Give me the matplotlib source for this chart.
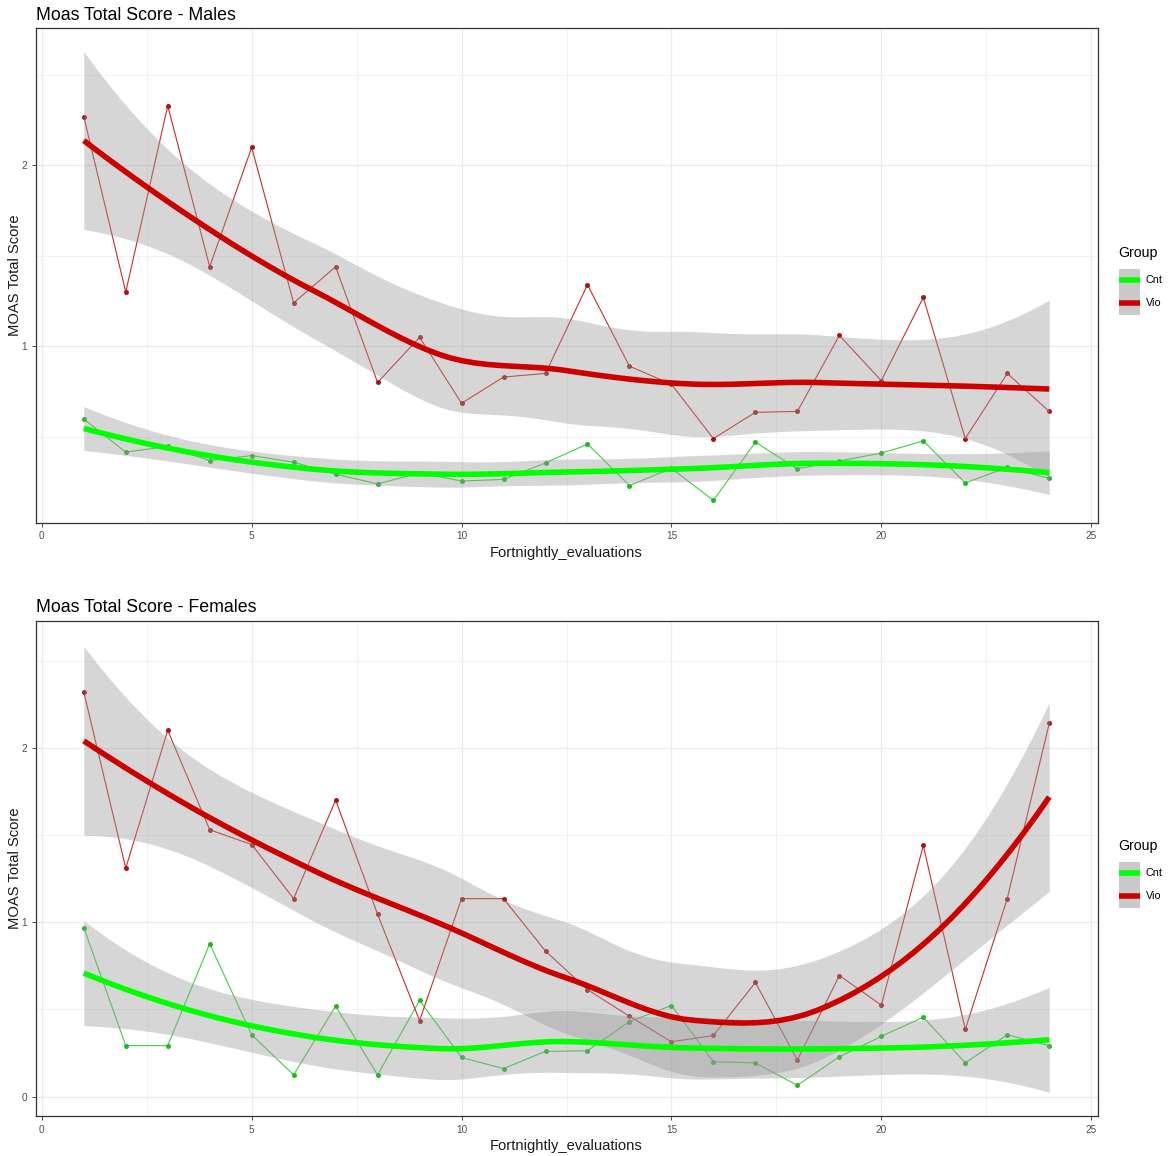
import numpy as np
import matplotlib
matplotlib.use("Agg")
import matplotlib.pyplot as plt
from matplotlib.lines import Line2D
from matplotlib.patches import Rectangle
from matplotlib.legend_handler import HandlerBase

plt.rcParams['font.family'] = ['Liberation Sans', 'DejaVu Sans']

# ---------------- data ----------------
evaluations = list(range(1, 25))
male_vio = [2.27, 1.30, 2.33, 1.44, 2.10, 1.24, 1.44, 0.80, 1.05, 0.685, 0.83, 0.85,
            1.34, 0.89, 0.79, 0.49, 0.635, 0.64, 1.06, 0.81, 1.27, 0.49, 0.85, 0.64]
male_cnt = [0.598, 0.415, 0.446, 0.368, 0.396, 0.359, 0.293, 0.239, 0.300, 0.255, 0.264, 0.355,
            0.460, 0.230, 0.325, 0.148, 0.470, 0.322, 0.366, 0.410, 0.477, 0.245, 0.330, 0.270]
female_vio = [2.32, 1.31, 2.10, 1.53, 1.445, 1.135, 1.70, 1.045, 0.435, 1.135, 1.135, 0.834,
              0.613, 0.46, 0.314, 0.35, 0.654, 0.209, 0.694, 0.524, 1.44, 0.385, 1.135, 2.14]
female_cnt = [0.969, 0.292, 0.292, 0.876, 0.354, 0.124, 0.518, 0.124, 0.551, 0.224, 0.160, 0.259,
              0.262, 0.430, 0.522, 0.200, 0.193, 0.064, 0.228, 0.345, 0.455, 0.193, 0.354, 0.292]
groups = ["Cnt", "Vio"]
titles = ["Moas Total Score - Males", "Moas Total Score - Females"]
x_ticks = [0, 5, 10, 15, 20, 25]
male_yticks = [1, 2]
female_yticks = [0, 1, 2]

# ---------------- style ----------------
smooth_col = {"Cnt": "#00FF00", "Vio": "#CD0000"}
line_col = {"Cnt": "#3CD23C", "Vio": "#CC2A2A"}
point_col = {"Cnt": "#22B822", "Vio": "#A81414"}


def norm_ppf(pp):
    a = [-3.969683028665376e+01, 2.209460984245205e+02, -2.759285104469687e+02,
         1.383577518672690e+02, -3.066479806614716e+01, 2.506628277459239e+00]
    b = [-5.447609879822406e+01, 1.615858368580409e+02, -1.556989798598866e+02,
         6.680131188771972e+01, -1.328068155288572e+01]
    c = [-7.784894002430293e-03, -3.223964580411365e-01, -2.400758277161838e+00,
         -2.549732539343734e+00, 4.374664141464968e+00, 2.938163982698783e+00]
    d = [7.784695709041462e-03, 3.224671290700398e-01, 2.445134137142996e+00,
         3.754408661907416e+00]
    if pp > 1 - 0.02425:
        q = np.sqrt(-2 * np.log(1 - pp))
        return -(((((c[0]*q+c[1])*q+c[2])*q+c[3])*q+c[4])*q+c[5]) / \
            ((((d[0]*q+d[1])*q+d[2])*q+d[3])*q+1)
    q = pp - 0.5
    r = q * q
    return (((((a[0]*r+a[1])*r+a[2])*r+a[3])*r+a[4])*r+a[5])*q / \
        (((((b[0]*r+b[1])*r+b[2])*r+b[3])*r+b[4])*r+1)


def t_quantile(p, df):
    z = norm_ppf(p)
    g1 = (z**3 + z) / 4
    g2 = (5*z**5 + 16*z**3 + 3*z) / 96
    g3 = (3*z**7 + 19*z**5 + 17*z**3 - 15*z) / 384
    return z + g1/df + g2/df**2 + g3/df**3


def local_rows(x, x0, span=0.75):
    """Operator rows for value and slope of a local quadratic fit at x0."""
    n = len(x)
    q = int(np.floor(n * span))
    d = np.abs(x - x0)
    h = np.sort(d)[q - 1]
    u = np.clip(d / h, 0, 1)
    w = (1 - u**3)**3
    X = np.column_stack([np.ones(n), x - x0, (x - x0)**2])
    XtW = X.T * w
    B = np.linalg.solve(XtW @ X, XtW)
    return B[0], B[1]


def kd_vertices(x, span=0.75, cell=0.2):
    xs = np.sort(np.asarray(x, float))
    n = len(xs)
    fc = int(np.floor(n * span * cell))
    mu = 0.005 * (xs[-1] - xs[0])
    verts = {xs[0] - mu, xs[-1] + mu}

    def split(l, u):  # 0-based inclusive indices
        if u - l + 1 <= fc:
            return
        m = (l + u) // 2
        t = (xs[m] + xs[m + 1]) / 2
        verts.add(t)
        split(l, m)
        split(m + 1, u)

    split(0, n - 1)
    return np.array(sorted(verts))


def loess_operator(x, xe, span=0.75):
    x = np.asarray(x, float)
    v = kd_vertices(x, span)
    V0, V1 = zip(*[local_rows(x, vi, span) for vi in v])
    V0, V1 = np.array(V0), np.array(V1)
    rows = []
    for xx in np.atleast_1d(xe):
        j = min(max(np.searchsorted(v, xx) - 1, 0), len(v) - 2)
        hh = v[j + 1] - v[j]
        t = (xx - v[j]) / hh
        p0 = (1 - t)**2 * (1 + 2*t)
        p1 = t**2 * (3 - 2*t)
        s0 = t * (1 - t)**2
        s1 = -t**2 * (1 - t)
        rows.append(p0*V0[j] + p1*V0[j+1] + hh*(s0*V1[j] + s1*V1[j+1]))
    return np.array(rows)


def loess_smooth(x, y, n_out=80, level=0.95):
    x = np.asarray(x, float)
    y = np.asarray(y, float)
    n = len(x)
    L = loess_operator(x, x)
    res = y - L @ y
    IL = np.eye(n) - L
    M = IL.T @ IL
    one_delta = np.trace(M)
    two_delta = np.trace(M @ M)
    s = np.sqrt(np.sum(res**2) / one_delta)
    df = one_delta**2 / two_delta
    xs = np.linspace(x.min(), x.max(), n_out)
    Ls = loess_operator(x, xs)
    fit = Ls @ y
    se = s * np.sqrt(np.sum(Ls**2, axis=1))
    tq = t_quantile(level / 2 + 0.5, df)
    return xs, fit, fit - tq * se, fit + tq * se


class SmoothKeyHandler(HandlerBase):
    """ggplot-like key: grey ribbon square with the smooth line across it."""
    def create_artists(self, legend, orig_handle, xdescent, ydescent,
                       width, height, fontsize, trans):
        rect = Rectangle((-xdescent, -ydescent), width, height,
                         facecolor='#C9C9C9', edgecolor='none', transform=trans)
        yc = height / 2 - ydescent
        line = Line2D([-xdescent, -xdescent + width], [yc, yc],
                      color=orig_handle.get_color(), lw=orig_handle.get_linewidth(),
                      solid_capstyle='butt', transform=trans)
        return [rect, line]


fig = plt.figure(figsize=(11.68, 11.56), dpi=100)
W, H = 1168, 1156
ax_left, ax_right = 35.5, 1097.5
panels = [
    dict(top=28, bottom=523, data={"Cnt": male_cnt, "Vio": male_vio},
         yticks=male_yticks, ylim=(0.023, 2.76), title=titles[0]),
    dict(top=620.7, bottom=1116.4, data={"Cnt": female_cnt, "Vio": female_vio},
         yticks=female_yticks, ylim=(-0.114, 2.729), title=titles[1]),
]

for p in panels:
    ax = fig.add_axes([ax_left / W, 1 - p["bottom"] / H,
                       (ax_right - ax_left) / W, (p["bottom"] - p["top"]) / H])
    ax.set_facecolor("white")
    # raw series (drawn first, under ribbons)
    for g in groups:
        ax.plot(evaluations, p["data"][g], color=line_col[g], lw=0.8, zorder=2)
        ax.plot(evaluations, p["data"][g], 'o', color=point_col[g], ms=3.6,
                mec='none', zorder=2.1)
    # loess ribbons then smooth lines
    fits = {}
    for g in groups:
        xs, fit, lo, hi = loess_smooth(evaluations, p["data"][g])
        fits[g] = (xs, fit)
        ax.fill_between(xs, lo, hi, color="#999999", alpha=0.4, lw=0, zorder=3)
    handles = []
    for g in groups:
        xs, fit = fits[g]
        ln, = ax.plot(xs, fit, color=smooth_col[g], lw=4, zorder=4,
                      solid_capstyle='butt')
        handles.append(ln)

    ax.set_xlim(-0.15, 25.15)
    ax.set_ylim(*p["ylim"])
    ax.set_xticks(x_ticks)
    ax.set_yticks(p["yticks"])
    ax.set_xticks(np.arange(2.5, 25, 5), minor=True)
    ymin, ymax = p["ylim"]
    ax.set_yticks([v + 0.5 for v in range(-1, 3) if ymin < v + 0.5 < ymax], minor=True)
    ax.grid(which='major', color='#EBEBEB', lw=0.9, zorder=0)
    ax.grid(which='minor', color='#EBEBEB', lw=0.45, zorder=0)
    ax.set_axisbelow(True)
    ax.tick_params(which='minor', length=0)
    ax.tick_params(which='major', length=3, width=0.6, color='#333333',
                   labelsize=7.2, labelcolor='#4D4D4D', pad=3)
    for sp in ax.spines.values():
        sp.set_color('#333333')
        sp.set_linewidth(0.9)
    ax.set_xlabel("Fortnightly_evaluations", fontsize=10.6, color='#1A1A1A', labelpad=3)
    ax.set_ylabel("MOAS Total Score", fontsize=10.6, color='#1A1A1A', labelpad=-0.5)
    ax.set_title(p["title"], loc='left', fontsize=12.8, pad=6, color='black')

    leg = ax.legend(handles, groups, handler_map={Line2D: SmoothKeyHandler()},
                    title="Group", loc='center left', bbox_to_anchor=(1 + 21 / 1062, 0.49),
                    frameon=False, fontsize=7.8, title_fontsize=10.2,
                    handlelength=2.0, handleheight=2.9, labelspacing=0,
                    handletextpad=0.5, borderpad=0, borderaxespad=0, alignment='left')
    leg._legend_box.sep = 6

fig.savefig("out.png", dpi=100, facecolor='white')
